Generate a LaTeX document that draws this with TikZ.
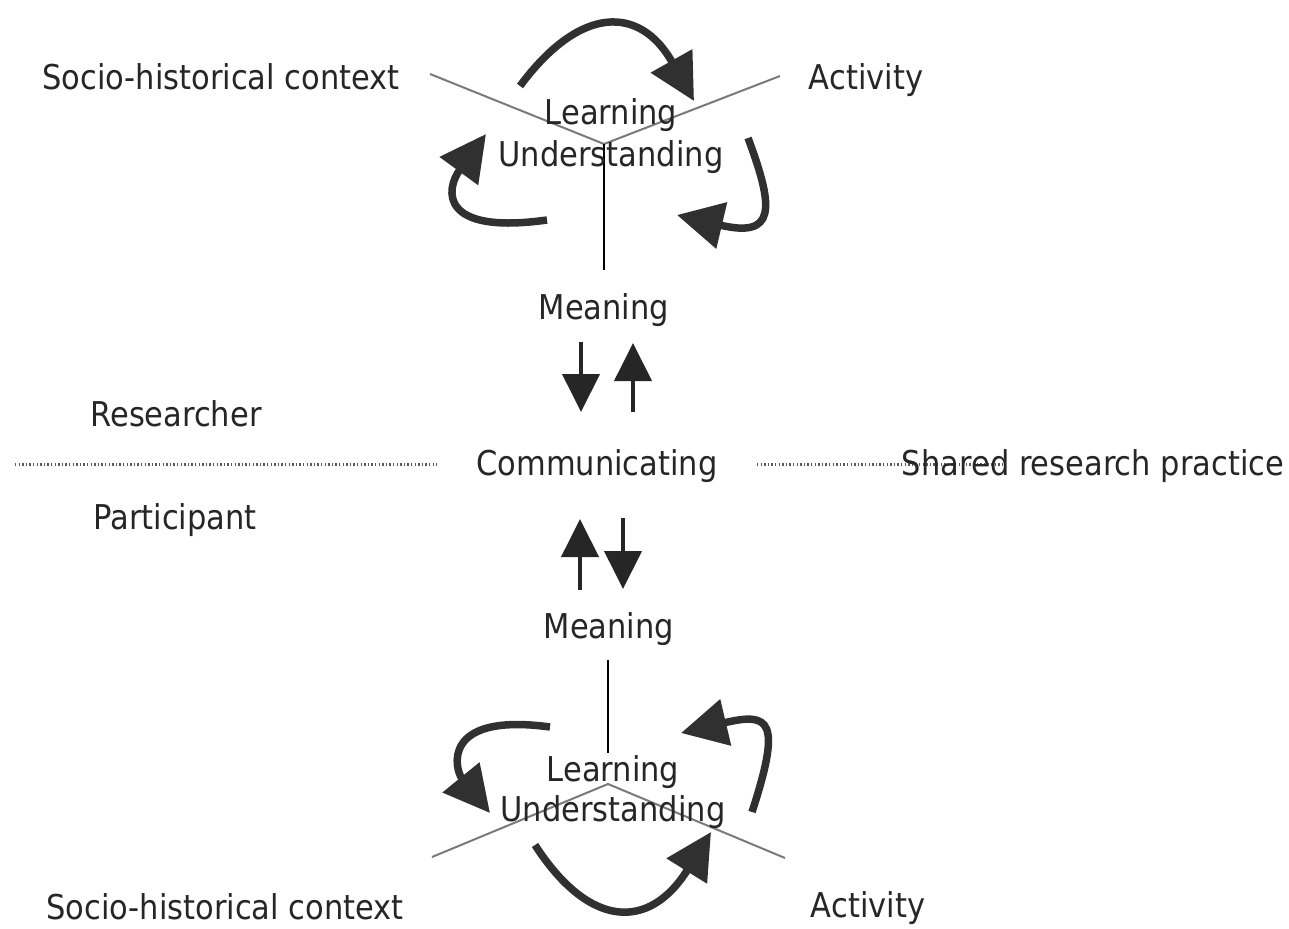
\documentclass[tikz,border=0pt]{standalone}
\usepackage{fontspec}
\setmainfont{DejaVu Sans}
\usetikzlibrary{arrows.meta}
\definecolor{txt}{HTML}{262626}
\definecolor{curv}{HTML}{303030}
\definecolor{vline}{HTML}{7A7A7A}
\definecolor{dotc}{HTML}{5A5A5A}
\newcommand{\tx}[1]{\scalebox{1}[1.12]{#1}}
\tikzset{
  lbl/.style={inner sep=0pt, text=txt, font=\fontsize{30.5}{36}\selectfont},
  curvy/.style={draw=curv, line width=7.5pt, line cap=butt,
    -{Triangle[length=46pt,width=46pt]}},
  straw/.style={draw=txt, line width=4pt,
    -{Triangle[length=38pt,width=37pt]}},
  vee/.style={draw=vline, line width=2pt},
  stem/.style={draw=black, line width=1.6pt},
  dots/.style={draw=dotc, line width=3pt, dash pattern=on 1.4pt off 2.2pt}
}
\begin{document}
\begin{tikzpicture}[x=1pt,y=-1pt]
\useasboundingbox (0,0) rectangle (1289,928);
\fill[white] (0,0) rectangle (1289,928);

% ---- top cluster ----
\coordinate (tl) at (430,74);
\coordinate (tv) at (604,144);
\coordinate (tr) at (780,76);
\coordinate (ts) at (604,270);
\draw[vee] (tl) -- (tv) -- (tr);
\draw[stem] (tv) -- (ts);

\node[lbl] (shc1) at (221,77) {\tx{Socio-historical context}};
\node[lbl] (act1) at (866,80) {\tx{Activity}};
\node[lbl] (lea1) at (611,115) {\tx{Learning}};
\node[lbl] (und1) at (611,157) {\tx{Understanding}};
\node[lbl] (mea1) at (604,310) {\tx{Meaning}};

\coordinate (a1s) at (520,86);
\coordinate (a1e) at (694,101);
\draw[curvy] (a1s) .. controls (580,5) and (640,5) .. (a1e);
\coordinate (a2s) at (547,220);
\coordinate (a2e) at (486,134);
\draw[curvy] (a2s) .. controls (440,235) and (445,190) .. (a2e);
\coordinate (a3s) at (748,138);
\coordinate (a3e) at (677,215);
\draw[curvy] (a3s) .. controls (775,210) and (775,238) .. (a3e);

% ---- middle ----
\node[lbl] (comm) at (597,466) {\tx{Communicating}};
\node[lbl] (res) at (176,414) {\tx{Researcher}};
\node[lbl] (par) at (175,520) {\tx{Participant}};
\coordinate (dl1) at (15,464);
\coordinate (dl2) at (437,464);
\coordinate (dr1) at (757,464);
\coordinate (dr2) at (1005,464);
\draw[dots] (dl1) -- (dl2);
\draw[dots] (dr1) -- (dr2);
\node[lbl] (srp) at (1093,466) {\tx{Shared research practice}};

\coordinate (m1a) at (581,342);
\coordinate (m1b) at (581,412);
\coordinate (m2a) at (633,412);
\coordinate (m2b) at (633,343);
\draw[straw] (m1a) -- (m1b);
\draw[straw] (m2a) -- (m2b);
\coordinate (m3a) at (580,590);
\coordinate (m3b) at (580,519);
\coordinate (m4a) at (623,518);
\coordinate (m4b) at (623,589);
\draw[straw] (m3a) -- (m3b);
\draw[straw] (m4a) -- (m4b);

% ---- bottom cluster ----
\node[lbl] (mea2) at (609,629) {\tx{Meaning}};
\coordinate (bs) at (608,660);
\coordinate (bv) at (608,784);
\coordinate (bl) at (432,857);
\coordinate (br) at (785,858);
\draw[stem] (bs) -- (608,753);
\draw[vee] (bl) -- (bv) -- (br);

\node[lbl] (lea2) at (613,772) {\tx{Learning}};
\node[lbl] (und2) at (613,812) {\tx{Understanding}};
\node[lbl] (shc2) at (225,907) {\tx{Socio-historical context}};
\node[lbl] (act2) at (868,908) {\tx{Activity}};

\coordinate (b1s) at (535,845);
\coordinate (b1e) at (711,832);
\draw[curvy] (b1s) .. controls (590,930) and (650,930) .. (b1e);
\coordinate (b2s) at (550,727);
\coordinate (b2e) at (490,813);
\draw[curvy] (b2s) .. controls (440,712) and (455,770) .. (b2e);
\coordinate (b3s) at (752,812);
\coordinate (b3e) at (681,733);
\draw[curvy] (b3s) .. controls (782,720) and (770,712) .. (b3e);
\end{tikzpicture}
\end{document}
